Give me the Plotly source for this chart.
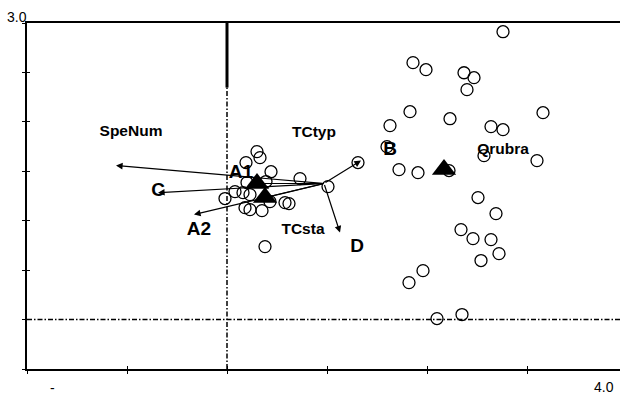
import plotly.graph_objects as go

# ---- data ----
site_x = [2.76, 1.86, 1.99, 2.37, 2.47, 2.40, 1.83, 1.63, 2.23, 3.16, 2.64, 2.76,
          1.60, 2.57, 3.10, 1.72, 1.91, 2.22, 2.51, 2.69, 2.34, 2.46, 2.64, 2.72,
          2.54, 1.96, 1.82, 2.10, 2.35, 1.01, 1.31, 0.38, -0.02,
          0.30, 0.33, 0.19, 0.44, 0.73, 0.39, 0.20, 0.08, 0.16, 0.23, 0.18, 0.23,
          0.35, 0.43, 0.58, 0.62]
site_y = [2.912, 2.599, 2.528, 2.497, 2.447, 2.326, 2.103, 1.962, 2.032, 2.093, 1.952, 1.921,
          1.749, 1.658, 1.608, 1.517, 1.486, 1.507, 1.234, 1.072, 0.910, 0.819, 0.809, 0.667,
          0.597, 0.495, 0.374, 0.010, 0.051, 1.345, 1.588, 0.738, 1.224,
          1.699, 1.638, 1.588, 1.496, 1.426, 1.396, 1.386, 1.294, 1.284, 1.264, 1.132, 1.112,
          1.102, 1.193, 1.183, 1.173]

centroid_x = [0.30, 0.38, 2.17]
centroid_y = [1.376, 1.234, 1.517]

arrow_origin_x = 0.97
arrow_origin_y = 1.376
arrow_head_x = [-1.11, -0.69, -0.33, 1.13, 1.34]
arrow_head_y = [1.558, 1.284, 1.062, 0.880, 1.608]

small_labels = ["SpeNum", "TCtyp", "Qrubra", "TCsta"]
small_label_x = [-0.96, 0.87, 2.76, 0.76]
small_label_y = [1.892, 1.881, 1.709, 0.900]

big_labels = ["A1", "A2", "B", "C", "D"]
big_label_x = [0.14, -0.28, 1.63, -0.69, 1.30]
big_label_y = [1.477, 0.900, 1.709, 1.295, 0.728]

x_ticks = [-2, -1, 0, 1, 2, 3]
y_ticks = [-0.5, 0, 0.5, 1.0, 1.5, 2.0, 2.5, 3.0]
x_range = [-2.0, 3.93]
y_range = [-0.5, 3.0]

axis_texts = ["3.0", "-", "4.0"]

FONT = "Liberation Sans, Arial, sans-serif"

fig = go.Figure()

# sites
fig.add_trace(go.Scatter(
    x=site_x, y=site_y, mode="markers",
    marker=dict(symbol="circle-open", size=12, color="black", line=dict(width=1.3, color="black")),
    hoverinfo="skip"))

# plain lines from origin to the two left centroids
for cx, cy in zip(centroid_x[:2], centroid_y[:2]):
    fig.add_trace(go.Scatter(x=[arrow_origin_x, cx], y=[arrow_origin_y, cy], mode="lines",
                             line=dict(color="black", width=1.1), hoverinfo="skip"))

# labels
fig.add_trace(go.Scatter(
    x=small_label_x, y=small_label_y, mode="text", text=small_labels,
    textfont=dict(family=FONT, size=15.5, color="black", weight="bold"),
    textposition="middle center", hoverinfo="skip"))
fig.add_trace(go.Scatter(
    x=big_label_x, y=big_label_y, mode="text", text=big_labels,
    textfont=dict(family=FONT, size=19, color="black", weight="bold"),
    textposition="middle center", hoverinfo="skip"))

# centroids
fig.add_trace(go.Scatter(
    x=centroid_x, y=centroid_y, mode="markers",
    marker=dict(symbol="triangle-up", size=21, color="black", line=dict(width=0)),
    hoverinfo="skip"))

# dummy trace to activate inner tick axes
fig.add_trace(go.Scatter(x=[None], y=[None], xaxis="x2", yaxis="y2", hoverinfo="skip"))

annotations = []
for hx, hy in zip(arrow_head_x, arrow_head_y):
    annotations.append(dict(
        x=hx, y=hy, ax=arrow_origin_x, ay=arrow_origin_y,
        xref="x", yref="y", axref="x", ayref="y",
        text="", showarrow=True, arrowhead=2, arrowsize=1.1, arrowwidth=1.2,
        arrowcolor="black", standoff=0, startstandoff=0))

axis_text_pos = [(0.0034, 1.0173, "right"), (0.0438, -0.055, "center"), (0.973, -0.052, "center")]
for t, (px, py, xa) in zip(axis_texts, axis_text_pos):
    annotations.append(dict(x=px, y=py, xref="paper", yref="paper", text=t, showarrow=False,
                            xanchor=xa, yanchor="middle",
                            font=dict(family=FONT, size=14, color="black")))

split_y = 2.347
dash = "5px,2px,1.5px,2px"
shapes = [
    dict(type="line", xref="x", yref="y", x0=0, x1=0, y0=y_range[0], y1=split_y,
         line=dict(color="black", width=1.5, dash=dash)),
    dict(type="line", xref="x", yref="y", x0=0, x1=0, y0=split_y, y1=y_range[1],
         line=dict(color="black", width=3)),
    dict(type="line", xref="x", yref="y", x0=x_range[0], x1=x_range[1], y0=0, y1=0,
         line=dict(color="black", width=1.5, dash=dash)),
]

axis_common = dict(showgrid=False, zeroline=False, showticklabels=False,
                   ticklen=3, tickwidth=1, tickcolor="black")

fig.update_layout(
    width=621, height=396,
    margin=dict(l=27, r=1, t=23, b=27),
    plot_bgcolor="white", paper_bgcolor="white",
    showlegend=False,
    xaxis=dict(range=x_range, tickvals=x_ticks, ticks="outside", showline=True,
               linecolor="black", linewidth=1.5, mirror=True, **axis_common),
    yaxis=dict(range=y_range, tickvals=y_ticks, ticks="outside", showline=True,
               linecolor="black", linewidth=1.5, **axis_common),
    xaxis2=dict(range=x_range, tickvals=x_ticks, ticks="inside", overlaying="x",
                anchor="y2", side="bottom", showline=False, **axis_common),
    yaxis2=dict(range=y_range, tickvals=y_ticks, ticks="inside", overlaying="y",
                anchor="x2", side="left", showline=False, **axis_common),
    annotations=annotations,
    shapes=shapes,
)

fig.write_html("out.html")
